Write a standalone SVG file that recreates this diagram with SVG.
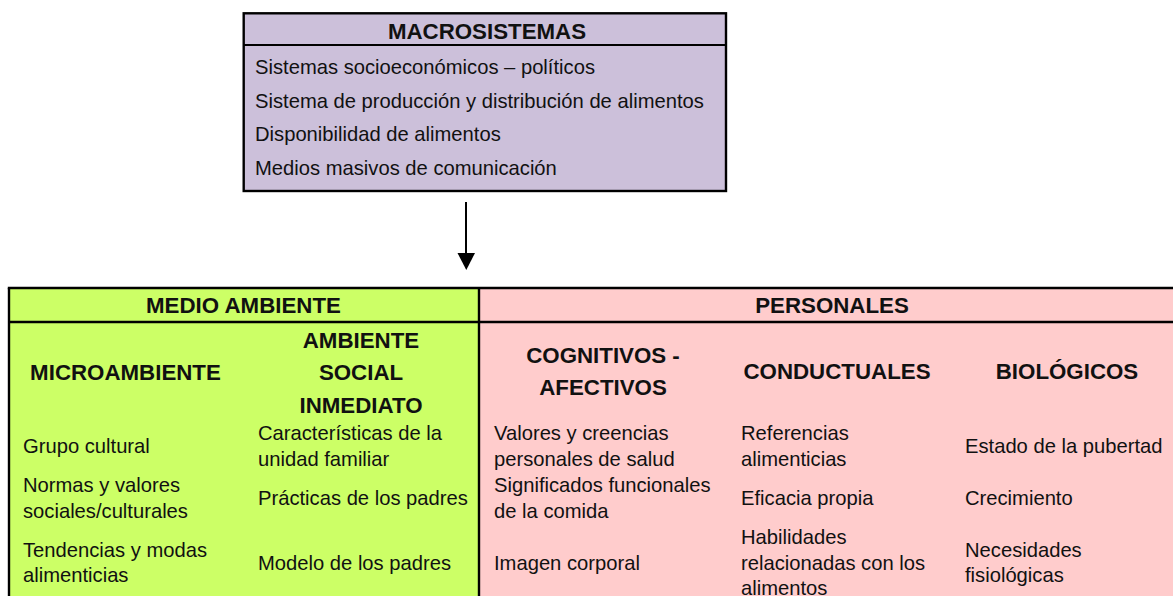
<svg xmlns="http://www.w3.org/2000/svg" width="1173" height="596" viewBox="0 0 1173 596">
<defs>
<style>
.t{font-family:"Liberation Sans",Arial,sans-serif;font-size:20.2px;fill:#111}
.h{font-family:"Liberation Sans",Arial,sans-serif;font-size:22.3px;font-weight:bold;fill:#111;text-anchor:middle}
.ln{stroke:#000;stroke-width:2.4;fill:none}
</style>
</defs>
<rect width="1173" height="596" fill="#fff"/>

<g id="macrosistemas">
<rect x="243.7" y="13.3" width="482.3" height="177.7" fill="#ccc0da" stroke="#000" stroke-width="2.4"/>
<line x1="243.7" y1="45" x2="726" y2="45" stroke="#000" stroke-width="2"/>
<text class="h" x="487" y="39">MACROSISTEMAS</text>
<text class="t" x="255" y="73.5">Sistemas socioeconómicos – políticos</text>
<text class="t" x="255" y="107.5">Sistema de producción y distribución de alimentos</text>
<text class="t" x="255" y="141">Disponibilidad de alimentos</text>
<text class="t" x="255" y="174.5">Medios masivos de comunicación</text>
</g>

<g id="connectors">
<line x1="466" y1="202" x2="466" y2="254" stroke="#000" stroke-width="2"/>
<path d="M457.5,253 L475,253 L466.3,270 Z" fill="#000"/>
</g>

<g id="medio-ambiente">
<rect x="9" y="288" width="470" height="310" fill="#ccff66"/>
<text class="h" x="243.5" y="313">MEDIO AMBIENTE</text>
<text class="h" x="125.5" y="380">MICROAMBIENTE</text>
<text class="h" x="361" y="347.5">AMBIENTE</text>
<text class="h" x="361" y="380">SOCIAL</text>
<text class="h" x="361" y="412.5">INMEDIATO</text>
<text class="t" x="23" y="452.5">Grupo cultural</text>
<text class="t" x="23" y="491.5">Normas y valores</text>
<text class="t" x="23" y="517.5">sociales/culturales</text>
<text class="t" x="23" y="556.5">Tendencias y modas</text>
<text class="t" x="23" y="581.5">alimenticias</text>
<text class="t" x="258" y="440">Características de la</text>
<text class="t" x="258" y="466">unidad familiar</text>
<text class="t" x="258" y="505">Prácticas de los padres</text>
<text class="t" x="258" y="570">Modelo de los padres</text>
</g>

<g id="personales">
<rect x="479" y="288" width="700" height="310" fill="#ffcccc"/>
<text class="h" x="832" y="313">PERSONALES</text>
<text class="h" x="603" y="363">COGNITIVOS -</text>
<text class="h" x="603" y="395">AFECTIVOS</text>
<text class="h" x="837" y="379">CONDUCTUALES</text>
<text class="h" x="1067" y="379">BIOLÓGICOS</text>
<text class="t" x="494" y="440">Valores y creencias</text>
<text class="t" x="494" y="466">personales de salud</text>
<text class="t" x="494" y="491.5">Significados funcionales</text>
<text class="t" x="494" y="517.5">de la comida</text>
<text class="t" x="494" y="570">Imagen corporal</text>
<text class="t" x="741" y="440">Referencias</text>
<text class="t" x="741" y="466">alimenticias</text>
<text class="t" x="741" y="505">Eficacia propia</text>
<text class="t" x="741" y="544">Habilidades</text>
<text class="t" x="741" y="570">relacionadas con los</text>
<text class="t" x="741" y="594.5">alimentos</text>
<text class="t" x="965" y="452.5">Estado de la pubertad</text>
<text class="t" x="965" y="505">Crecimiento</text>
<text class="t" x="965" y="556.5">Necesidades</text>
<text class="t" x="965" y="581.5">fisiológicas</text>
</g>

<g id="table-lines">
<line class="ln" x1="7.8" y1="288" x2="1173" y2="288"/>
<line class="ln" x1="9" y1="288" x2="9" y2="596"/>
<line class="ln" x1="479" y1="288" x2="479" y2="596"/>
<line class="ln" x1="9" y1="322" x2="1173" y2="322"/>
</g>
</svg>
